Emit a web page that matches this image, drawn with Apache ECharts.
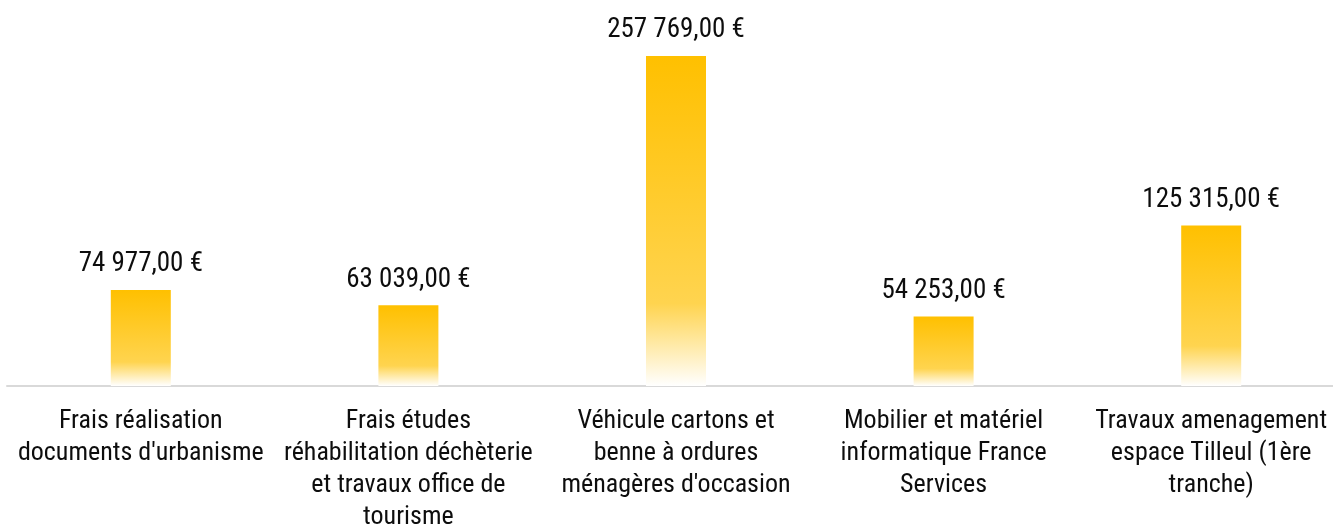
<!DOCTYPE html>
<html>
<head>
<meta charset="utf-8">
<script src="https://cdn.jsdelivr.net/npm/echarts@6/dist/echarts.min.js"></script>
<style>
html, body { margin: 0; padding: 0; background: #fff; }
#chart { width: 1333px; height: 525px; }
</style>
</head>
<body>
<div id="chart"></div>
<script>
var categories = [
    'Frais réalisation\ndocuments d\'urbanisme',
    'Frais études\nréhabilitation déchèterie\net travaux office de\ntourisme',
    'Véhicule cartons et\nbenne à ordures\nménagères d\'occasion',
    'Mobilier et matériel\ninformatique France\nServices',
    'Travaux amenagement\nespace Tilleul (1ère\ntranche)'
];
var montants = [74977, 63039, 257769, 54253, 125315];

function euro(v) {
    var s = Math.round(v).toString().replace(/\B(?=(\d{3})+(?!\d))/g, ' ');
    return s + ',00 €';
}

var chartDom = document.getElementById('chart');
var myChart = echarts.init(chartDom);
var police = '"Roboto Condensed", Roboto, sans-serif';
var option = {
    animation: false,
    grid: {
        left: 7,
        right: -12,
        top: 56,
        bottom: 139,
        containLabel: false,
        outerBoundsMode: 'none'
    },
    xAxis: {
        type: 'category',
        data: categories,
        axisLine: { lineStyle: { color: '#d9d9d9', width: 2 } },
        axisTick: { show: false },
        axisLabel: {
            interval: 0,
            margin: 19,
            color: '#0d0d0d',
            fontSize: 26,
            lineHeight: 32,
            fontFamily: police
        }
    },
    yAxis: {
        type: 'value',
        min: 0,
        max: 257769,
        show: false,
        splitLine: { show: false }
    },
    series: [
        {
            type: 'bar',
            data: montants,
            barWidth: 60,
            itemStyle: {
                color: new echarts.graphic.LinearGradient(0, 0, 0, 1, [
                    { offset: 0, color: '#ffc000' },
                    { offset: 0.75, color: '#ffd44f' },
                    { offset: 1, color: '#ffffff' }
                ])
            },
            label: {
                show: true,
                position: 'top',
                distance: 12,
                color: '#0d0d0d',
                fontSize: 27,
                fontFamily: police,
                formatter: function (p) { return euro(p.value); }
            }
        }
    ]
};
option && myChart.setOption(option);
</script>
</body>
</html>
